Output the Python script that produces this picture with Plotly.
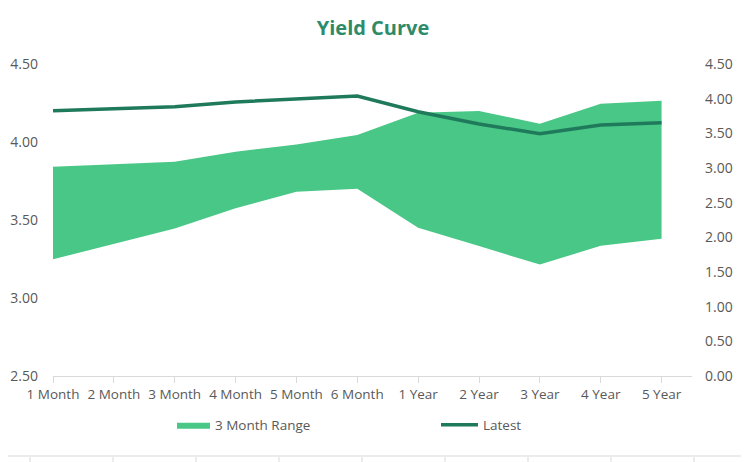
import plotly.graph_objects as go


# Maturities on the x axis
maturities = ["1 Month", "2 Month", "3 Month", "4 Month", "5 Month", "6 Month",
              "1 Year", "2 Year", "3 Year", "4 Year", "5 Year"]

# 3 month range, low and high (left axis)
range_low = [3.248, 3.349, 3.446, 3.575, 3.681, 3.700, 3.451, 3.333, 3.214, 3.335, 3.380]
range_high = [3.842, 3.859, 3.873, 3.938, 3.984, 4.045, 4.188, 4.199, 4.117, 4.245, 4.264]

# Latest yields (right axis)
latest = [3.826, 3.855, 3.884, 3.952, 3.995, 4.038, 3.812, 3.635, 3.495, 3.620, 3.653]

left_ticks = [2.5, 3.0, 3.5, 4.0, 4.5]
right_ticks = [0.0, 0.5, 1.0, 1.5, 2.0, 2.5, 3.0, 3.5, 4.0, 4.5]

FILL = "#48C786"
LINE = "#1F7A5C"
TEXT = "#595959"
GRID = "#D9D9D9"
FONT = "Open Sans"

# The page body has an 8px margin, so the figure is drawn 8px smaller
# and the plot area sits at the same place as in the reference.
OFF = 8
PLOT_L, PLOT_R, PLOT_T, PLOT_B = 53, 692, 64, 376


def px_x(x):
    return (x - PLOT_L) / (PLOT_R - PLOT_L)


def px_y(y):
    return (PLOT_B - y) / (PLOT_B - PLOT_T)


def main():

    fig = go.Figure()

    # Lower edge of the band, no legend entry.
    fig.add_trace(go.Scatter(x=maturities, y=range_low, mode="lines",
                             line=dict(width=0, color=FILL), showlegend=False,
                             hoverinfo="skip"))

    fig.add_trace(go.Scatter(x=maturities, y=range_high, mode="lines",
                             line=dict(width=0, color=FILL), fill="tonexty",
                             fillcolor=FILL, name="3 Month Range", legend="legend"))

    fig.add_trace(go.Scatter(x=maturities, y=latest, yaxis="y2", mode="lines",
                             line=dict(width=3.5, color=LINE), name="Latest",
                             legend="legend2"))

    # Chart border and the spreadsheet gridlines around it.
    shapes = [
        dict(type="line", xref="paper", yref="paper", x0=px_x(OFF), x1=px_x(742),
             y0=px_y(456), y1=px_y(456), line=dict(color=GRID, width=1)),
        dict(type="line", xref="paper", yref="paper", x0=px_x(742), x1=px_x(742),
             y0=px_y(456), y1=px_y(OFF), line=dict(color=GRID, width=1)),
    ]
    for gx in range(30, 742, 83):
        shapes.append(dict(type="line", xref="paper", yref="paper", x0=px_x(gx), x1=px_x(gx),
                           y0=px_y(457), y1=px_y(462), line=dict(color=GRID, width=1)))
    for gy in range(22, 456, 26):
        shapes.append(dict(type="line", xref="paper", yref="paper", x0=px_x(743), x1=px_x(749),
                           y0=px_y(gy), y1=px_y(gy), line=dict(color=GRID, width=1)))

    fig.update_layout(
        width=749 - OFF,
        height=462 - OFF,
        margin=dict(l=PLOT_L - OFF, r=749 - PLOT_R, t=PLOT_T - OFF, b=462 - PLOT_B),
        paper_bgcolor="white",
        plot_bgcolor="white",
        font=dict(family=FONT, size=13, color=TEXT),
        title=dict(text="<b>Yield Curve</b>", x=(373 - OFF) / (749 - OFF), xanchor="center",
                   y=1 - (28 - OFF) / (462 - OFF), yanchor="middle",
                   font=dict(size=20, color="#2E8B6A", family=FONT)),
        xaxis=dict(type="category", range=[0, 10.5], showgrid=False, showline=True,
                   linecolor=GRID, linewidth=1, ticks="outside", ticklen=6,
                   tickcolor=GRID, tickfont=dict(size=13.5, color=TEXT), zeroline=False,
                   automargin=False),
        yaxis=dict(range=[2.5, 4.5], tickvals=left_ticks, tickformat=".2f",
                   tickfont=dict(size=14, color=TEXT), automargin=False,
                   showgrid=False, zeroline=False, showline=False, ticklabelstandoff=14),
        yaxis2=dict(range=[0, 4.5], tickvals=right_ticks, tickformat=".2f",
                    tickfont=dict(size=14, color=TEXT), automargin=False,
                    overlaying="y", side="right", showgrid=False, zeroline=False,
                    showline=False, ticklabelstandoff=12),
        legend=dict(orientation="h", x=px_x(172), xanchor="left", y=px_y(425),
                    yanchor="middle", font=dict(size=13.5, color=TEXT), itemwidth=33,
                    bgcolor="rgba(0,0,0,0)"),
        legend2=dict(orientation="h", x=px_x(436), xanchor="left", y=px_y(425),
                     yanchor="middle", font=dict(size=13.5, color=TEXT), itemwidth=37,
                     bgcolor="rgba(0,0,0,0)"),
        showlegend=True,
        shapes=shapes,
    )

    fig.write_html("out.html")


if __name__ == "__main__":

    main()
